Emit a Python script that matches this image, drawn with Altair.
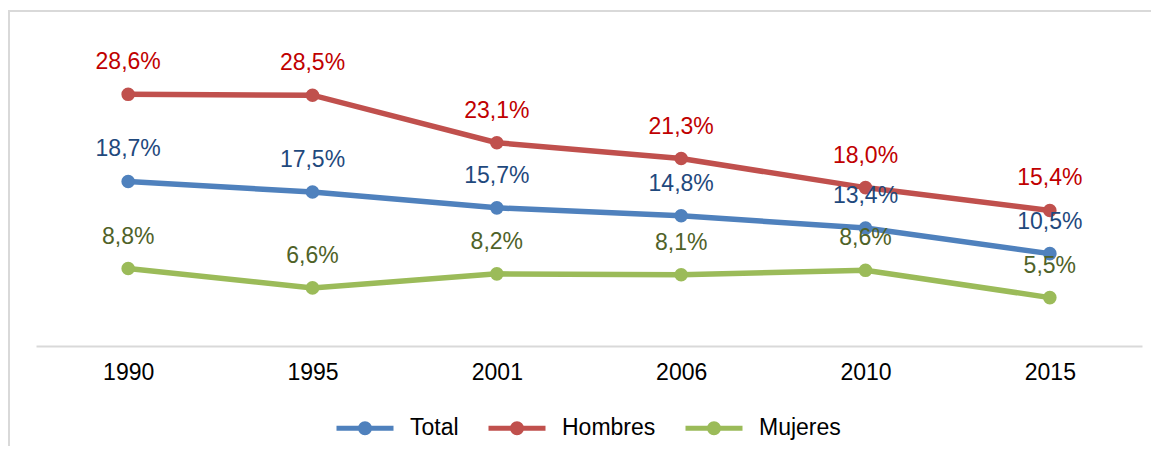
import altair as alt
import pandas as pd

years = ["1990", "1995", "2001", "2006", "2010", "2015"]
total = [18.7, 17.5, 15.7, 14.8, 13.4, 10.5]
hombres = [28.6, 28.5, 23.1, 21.3, 18.0, 15.4]
mujeres = [8.8, 6.6, 8.2, 8.1, 8.6, 5.5]

series_names = ["Total", "Hombres", "Mujeres"]
line_colors = ["#4F81BD", "#C0504D", "#9BBB59"]
label_colors = ["#1F497D", "#C00000", "#4F6228"]

rows = []
for name, vals in zip(series_names, [total, hombres, mujeres]):
    for y, v in zip(years, vals):
        rows.append({"year": y, "serie": name, "valor": v,
                     "etiqueta": f"{v:.1f}%".replace(".", ",")})
df = pd.DataFrame(rows)

FONT = "Liberation Sans"
FS = 23

x_enc = alt.X("year:N", sort=years, scale=alt.Scale(type="point", padding=0.5),
              axis=alt.Axis(title=None, ticks=False, grid=False, labelAngle=0,
                            labelFontSize=FS, labelFont=FONT, labelColor="#000000",
                            labelPadding=15, domainColor="#D9D9D9", domainWidth=2))
y_enc = alt.Y("valor:Q", scale=alt.Scale(domain=[0, 35], nice=False, zero=True), axis=None)

color_scale = alt.Scale(domain=series_names, range=line_colors)

sym = ("M-1,0H1"
       "M0.158,0A0.158,0.158,0,1,1,-0.158,0A0.158,0.158,0,1,1,0.158,0"
       "M0.053,0A0.053,0.053,0,1,1,-0.053,0A0.053,0.053,0,1,1,0.053,0")

base = alt.Chart(df)

lines = base.mark_line(strokeWidth=5.5).encode(
    x=x_enc, y=y_enc,
    color=alt.Color("serie:N", scale=color_scale, sort=series_names,
                    legend=alt.Legend(title=None, orient="none", direction="horizontal",
                                      legendX=298, legendY=359,
                                      symbolType=sym, symbolSize=3249, symbolStrokeWidth=5,
                                      labelFontSize=FS, labelFont=FONT, labelColor="#000000",
                                      labelOffset=14, columnPadding=19)),
)

points = base.mark_circle(size=185, opacity=1).encode(
    x=x_enc, y=y_enc,
    color=alt.Color("serie:N", scale=color_scale, sort=series_names, legend=None),
)

labels = base.mark_text(dy=-32, fontSize=FS, font=FONT, baseline="middle").encode(
    x=x_enc, y=y_enc,
    text="etiqueta:N",
    color=alt.Color("serie:N", scale=alt.Scale(domain=series_names, range=label_colors), legend=None),
)

border_top = alt.Chart(pd.DataFrame({"a": [0]})).mark_rule(color="#D9D9D9", strokeWidth=2).encode(
    x=alt.value(-28), x2=alt.value(1116), y=alt.value(-27))
border_left = alt.Chart(pd.DataFrame({"a": [0]})).mark_rule(color="#D9D9D9", strokeWidth=2).encode(
    x=alt.value(-27), y=alt.value(-28), y2=alt.value(420))

chart = alt.layer(border_top, border_left, lines, points, labels).resolve_scale(
    color="independent"
).properties(
    width=1106, height=308,
    padding={"left": 28, "top": 30, "right": 9, "bottom": 100},
    autosize=alt.AutoSizeParams(type="none"),
).configure_view(stroke=None)

chart.save("out.html", embed_options={"renderer": "svg", "actions": False})
